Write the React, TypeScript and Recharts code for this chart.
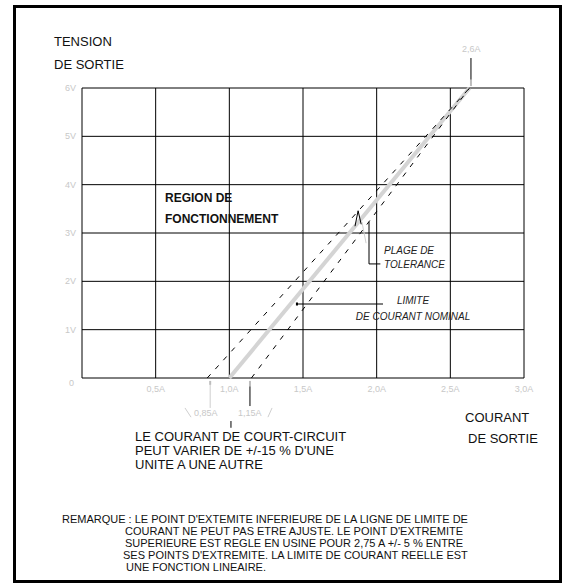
import { LineChart, Line, XAxis, YAxis, CartesianGrid, ReferenceLine } from 'recharts';

const currentTicks = [0, 0.5, 1.0, 1.5, 2.0, 2.5, 3.0];
const voltageTicks = [0, 1, 2, 3, 4, 5, 6];

// current limit line end points (A, V)
const nominalCurrent = [1.0, 2.63];
const lowCurrent = [0.85, 2.63];
const highCurrent = [1.15, 2.63];
const endVoltage = [0, 6];

const toPoints = (cur: number[]) => cur.map((c, i) => ({ x: c, y: endVoltage[i] }));

const FONT = '"Liberation Sans", Arial, sans-serif';
const TICK_GREY = '#c8c8c8';

const fmtA = (v: number) => (v === 0 ? '' : `${v.toFixed(1).replace('.', ',')}A`);
const fmtV = (v: number) => (v === 0 ? '0' : `${v}V`);

const YTick = ({ x, y, payload }: { x?: number; y?: number; payload?: { value: number } }) => {
  const v = payload?.value ?? 0;
  return (
    <text x={(x ?? 0) + (v === 0 ? -2 : 0)} y={(y ?? 0) + (v === 0 ? 5 : 0)} dy="0.35em" textAnchor="end"
      fontSize={9} fill={TICK_GREY} fontFamily={FONT}>
      {fmtV(v)}
    </text>
  );
};

const txt = (top: number, left: number, size: number, extra: React.CSSProperties = {}) => ({
  position: 'absolute' as const, top, left, fontSize: size, lineHeight: '1', fontFamily: FONT, color: '#111', whiteSpace: 'pre' as const, ...extra,
});

const seg = (x1: number, y1: number, x2: number, y2: number, stroke = '#000', w = 1) => (
  <ReferenceLine key={`${x1}-${y1}-${x2}-${y2}`} segment={[{ x: x1, y: y1 }, { x: x2, y: y2 }]} stroke={stroke} strokeWidth={w} ifOverflow="visible" />
);

export default function App() {
  return (
    <div style={{ position: 'absolute', left: 0, top: 0, width: 575, height: 588, background: '#fff', fontFamily: FONT }}>
      <div style={{ position: 'absolute', left: 13, top: 5, width: 549, height: 578, border: '3px solid #000', boxSizing: 'border-box' }} />
      <LineChart width={575} height={588} margin={{ top: 88, right: 51, left: 52, bottom: 180 }}>
        <CartesianGrid stroke="#000" strokeWidth={1} />
        <XAxis type="number" dataKey="x" domain={[0, 3]} ticks={currentTicks} tickFormatter={fmtA}
          axisLine={false} tickLine={false} height={30} tick={{ fontSize: 9, fill: TICK_GREY, fontFamily: FONT }} allowDataOverflow />
        <YAxis type="number" dataKey="y" domain={[0, 6]} ticks={voltageTicks} width={30}
          axisLine={false} tickLine={false} tickSize={4} tickMargin={2} tick={<YTick />} />
        <Line data={toPoints(nominalCurrent)} dataKey="y" stroke="#d4d4d4" strokeWidth={4} dot={false} isAnimationActive={false} />
        <Line data={toPoints(lowCurrent)} dataKey="y" stroke="#000" strokeWidth={1} strokeDasharray="5 7" dot={false} isAnimationActive={false} />
        <Line data={toPoints(highCurrent)} dataKey="y" stroke="#000" strokeWidth={1} strokeDasharray="5 7" dot={false} isAnimationActive={false} />
        {/* plage de tolerance leader */}
        {seg(1.948, 3.23, 1.948, 2.36)}
        {seg(1.948, 2.36, 2.025, 2.36)}
        {seg(1.9, 3.23, 1.928, 2.79, '#cfcfcf')}
        {seg(1.853, 3.14, 1.874, 3.46)}
        {seg(1.874, 3.46, 1.895, 3.18)}
        {/* limite leader */}
        {seg(1.459, 1.531, 2.043, 1.531)}
        {seg(1.452, 1.531, 1.466, 1.531, '#000', 3)}
        {/* top end point */}
        {seg(2.64, 6.62, 2.64, 6.17)}
        {seg(2.64, 6.17, 2.64, 6.04, '#bdbdbd', 2)}
        {/* short circuit spread */}
        {seg(0.87, -0.62, 0.87, -0.12, '#cfcfcf')}
        {seg(0.87, -0.14, 0.87, -0.06, '#bdbdbd', 2)}
        {seg(1.14, -0.58, 1.14, -0.17)}
        {seg(1.14, -0.17, 1.14, -0.06, '#bdbdbd', 2)}
        {seg(1.011, -0.89, 1.011, -1.03)}
        {seg(0.699, -0.62, 0.74, -0.81, '#cfcfcf')}
        {seg(1.29, -0.62, 1.262, -0.81, '#cfcfcf')}
      </LineChart>

      <div style={txt(35, 54, 13)}>TENSION</div>
      <div style={txt(58, 54, 13)}>DE SORTIE</div>
      <div style={txt(45, 462, 9, { color: TICK_GREY })}>2,6A</div>

      <div style={txt(192, 165, 12, { fontWeight: 700 })}>REGION DE</div>
      <div style={txt(213, 165, 12, { fontWeight: 700 })}>FONCTIONNEMENT</div>

      <div style={txt(246, 384, 10, { fontStyle: 'italic', color: '#222' })}>PLAGE DE</div>
      <div style={txt(260, 384, 10, { fontStyle: 'italic', color: '#222' })}>TOLERANCE</div>

      <div style={{ ...txt(296, 353, 10, { fontStyle: 'italic', color: '#222' }), width: 120, textAlign: 'center' }}>LIMITE</div>
      <div style={{ ...txt(312, 353, 10, { fontStyle: 'italic', color: '#222' }), width: 120, textAlign: 'center' }}>DE COURANT NOMINAL</div>

      <div style={txt(409, 194, 9, { color: TICK_GREY })}>0,85A</div>
      <div style={txt(409, 238, 9, { color: TICK_GREY })}>1,15A</div>

      <div style={txt(411, 465, 13)}>COURANT</div>
      <div style={txt(432, 468, 13)}>DE SORTIE</div>

      <div style={txt(430, 135, 13)}>LE COURANT DE COURT-CIRCUIT</div>
      <div style={txt(444, 135, 13)}>PEUT VARIER DE +/-15 % D'UNE</div>
      <div style={txt(458, 135, 13)}>UNITE A UNE AUTRE</div>

      <div style={txt(514, 62, 11)}>REMARQUE : LE POINT D'EXTEMITE INFERIEURE DE LA LIGNE DE LIMITE DE</div>
      <div style={txt(526, 125, 11)}>COURANT NE PEUT PAS ETRE AJUSTE. LE POINT D'EXTREMITE</div>
      <div style={txt(538, 125, 11)}>SUPERIEURE EST REGLE EN USINE POUR 2,75 A +/- 5 % ENTRE</div>
      <div style={txt(550, 123, 11)}>SES POINTS D'EXTREMITE. LA LIMITE DE COURANT REELLE EST</div>
      <div style={txt(562, 123, 11)}> UNE FONCTION LINEAIRE.</div>
    </div>
  );
}
